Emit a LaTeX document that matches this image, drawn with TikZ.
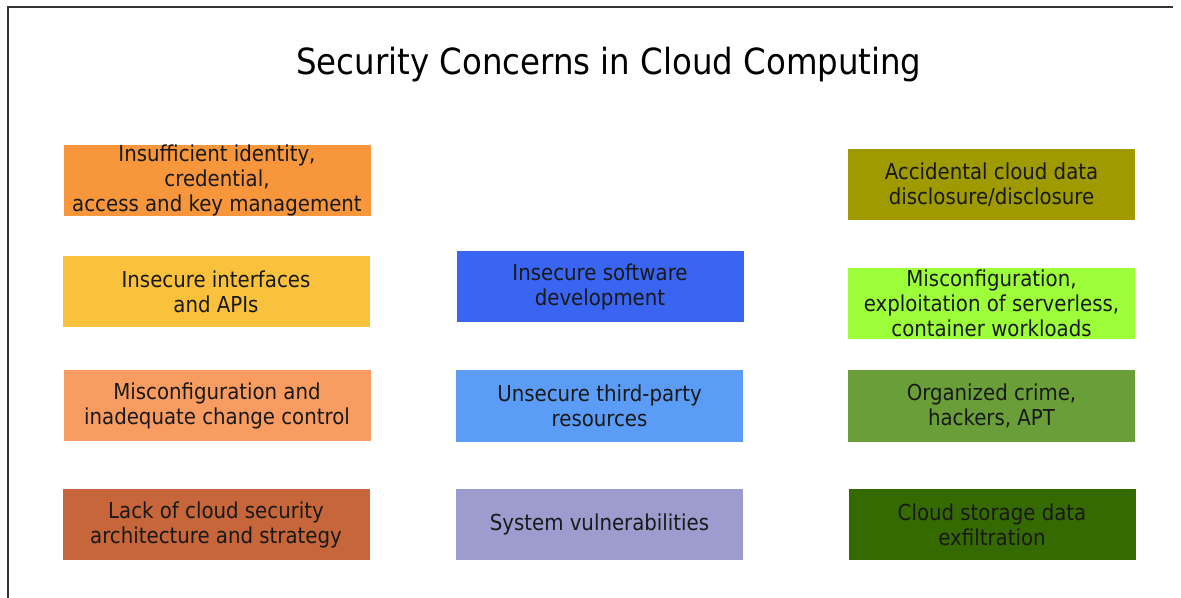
\documentclass[tikz,border=0pt]{standalone}
\usepackage{fontspec}
\setmainfont{DejaVu Sans Condensed}

\definecolor{idorange}{HTML}{F7963A}
\definecolor{apiyellow}{HTML}{FAC23C}
\definecolor{cfgsalmon}{HTML}{F99C62}
\definecolor{archbrown}{HTML}{C6663A}
\definecolor{devblue}{HTML}{3A64F2}
\definecolor{thirdblue}{HTML}{5B9CF6}
\definecolor{vulnlav}{HTML}{9C9CCF}
\definecolor{leakolive}{HTML}{9E9A00}
\definecolor{lambdagreen}{HTML}{9CFF3A}
\definecolor{aptgreen}{HTML}{6A9E38}
\definecolor{exfilgreen}{HTML}{356A00}

\tikzset{
  concern/.style={rectangle, minimum height=1.42cm, inner sep=0pt,
    align=center, text=black!90, font=\fontsize{12.5}{14.2}\selectfont},
  leftbox/.style={concern, minimum width=6.14cm},
  rightbox/.style={concern, minimum width=5.74cm}
}

\begin{document}
\begin{tikzpicture}
    \useasboundingbox (0,0) rectangle (23.62,-11.96);
    \draw [line width=1.2pt,black!80] (0.16,-11.96) -- (0.16,-0.14) -- (23.46,-0.14);

    \node (title) at (12.18,-1.3) {\fontsize{20.5}{24}\selectfont Security Concerns in Cloud Computing};

    % left column
    \node [leftbox,fill=idorange] (ident) at (4.34,-3.61) {Insufficient identity,\\credential,\\access and key management};
    \node [leftbox,fill=apiyellow] (api) at (4.32,-5.83) {Insecure interfaces\\and APIs};
    \node [leftbox,fill=cfgsalmon] (change) at (4.34,-8.11) {Misconfiguration and\\inadequate change control};
    \node [leftbox,fill=archbrown] (arch) at (4.32,-10.49) {Lack of cloud security\\architecture and strategy};

    % middle column
    \node [rightbox,fill=devblue] (swdev) at (12.0,-5.73) {Insecure software\\development};
    \node [rightbox,fill=thirdblue] (third) at (11.99,-8.12) {Unsecure third-party\\resources};
    \node [rightbox,fill=vulnlav] (vuln) at (11.99,-10.49) {System vulnerabilities};

    % right column
    \node [rightbox,fill=leakolive] (leak) at (19.83,-3.70) {Accidental cloud data\\disclosure/disclosure};
    \node [rightbox,fill=lambdagreen] (serverless) at (19.83,-6.07) {Misconfiguration,\\exploitation of serverless,\\container workloads};
    \node [rightbox,fill=aptgreen] (crime) at (19.83,-8.12) {Organized crime,\\hackers, APT};
    \node [rightbox,fill=exfilgreen] (exfil) at (19.84,-10.49) {Cloud storage data\\exfiltration};

    \end{tikzpicture}
\end{document}
